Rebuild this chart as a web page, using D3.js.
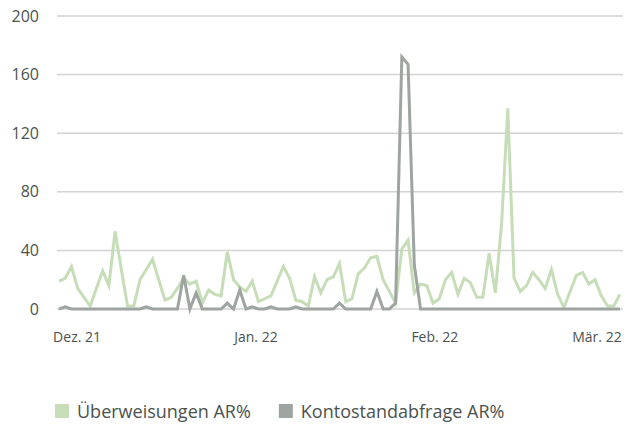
<!DOCTYPE html>
<html>
<head>
<meta charset="utf-8">
<script src="https://cdn.jsdelivr.net/npm/d3@7"></script>
<style>
  html, body { margin: 0; padding: 0; background: #fff; }
  svg text { font-family: "Open Sans", sans-serif; fill: #4b524d; }
</style>
</head>
<body>
<svg id="chart" width="627" height="426"></svg>
<script>
// values
var xLabels = ["Dez. 21", "Jan. 22", "Feb. 22", "Mär. 22"];
var xLabelPos = [2.9, 31.6, 60.3, 86.3];
var yTicks = [0, 40, 80, 120, 160, 200];
var seriesNames = ["Überweisungen AR%", "Kontostandabfrage AR%"];

var ueberweisungen = [19, 21, 29, 14, 8, 2, 14, 26, 16, 53,
  27, 2, 2, 20, 27, 34, 20, 6, 8, 14,
  21, 17, 19, 4, 13, 10, 9, 39, 20, 15,
  12, 19, 5, 7, 9, 19, 29, 21, 6, 5,
  2, 22, 11, 20, 22, 31, 5, 7, 24, 28,
  35, 36, 20, 12, 4, 41, 47, 11, 17, 16,
  4, 7, 20, 25, 10, 21, 18, 8, 8, 38,
  11, 58, 137, 21, 12, 16, 25, 20, 14, 27,
  10, 1, 12, 23, 25, 17, 20, 9, 2, 2, 10];

var kontostand = [0, 1.5, 0, 0, 0, 0, 0, 0, 0, 0,
  0, 0, 0, 0, 1.5, 0, 0, 0, 0, 0,
  23, 0, 11, 0, 0, 0, 0, 4, 0, 13,
  0, 1.5, 0, 0, 1.5, 0, 0, 0, 1.5, 0,
  0, 0, 0, 0, 0, 4, 0, 0, 0, 0,
  0, 12, 0, 0, 4, 172, 167, 30, 0, 0,
  0, 0, 0, 0, 0, 0, 0, 0, 0, 0,
  0, 0, 0, 0, 0, 0, 0, 0, 0, 0,
  0, 0, 0, 0, 0, 0, 0, 0, 0, 0, 0];

var colors = ["#c6ddb7", "#9ea4a0"];

var svg = d3.select("#chart");

var x = d3.scaleLinear().domain([0, ueberweisungen.length - 1]).range([59, 620]);
var y = d3.scaleLinear().domain([0, 200]).range([309, 16]);

// grid lines
svg.append("g")
  .selectAll("line")
  .data(yTicks)
  .enter().append("line")
    .attr("x1", 57)
    .attr("x2", 623)
    .attr("y1", function(d) { return y(d); })
    .attr("y2", function(d) { return y(d); })
    .attr("stroke", "#d3d3d3")
    .attr("stroke-width", 1.5);

// y labels
svg.append("g")
  .selectAll("text")
  .data(yTicks)
  .enter().append("text")
    .attr("x", 39)
    .attr("y", function(d) { return y(d); })
    .attr("dy", "0.35em")
    .attr("text-anchor", "end")
    .style("font-size", "16px")
    .text(function(d) { return d; });

// x labels
svg.append("g")
  .selectAll("text")
  .data(xLabels)
  .enter().append("text")
    .attr("x", function(d, i) { return x(xLabelPos[i]); })
    .attr("y", 342)
    .attr("text-anchor", "middle")
    .style("font-size", "14px")
    .text(function(d) { return d; });

var line = d3.line()
  .x(function(d, i) { return x(i); })
  .y(function(d) { return y(d); });

[ueberweisungen, kontostand].forEach(function(s, k) {
  svg.append("path")
    .datum(s)
    .attr("fill", "none")
    .attr("stroke", colors[k])
    .attr("stroke-width", 3)
    .attr("d", line);
});

// legend
var lx = 55;
seriesNames.forEach(function(name, k) {
  svg.append("rect")
    .attr("x", lx)
    .attr("y", 404)
    .attr("width", 14)
    .attr("height", 14)
    .attr("fill", colors[k]);
  var t = svg.append("text")
    .attr("x", lx + 22)
    .attr("y", 418)
    .style("font-size", "18px")
    .text(name);
  lx = lx + 22 + t.node().getComputedTextLength() + 28;
});
</script>
</body>
</html>
